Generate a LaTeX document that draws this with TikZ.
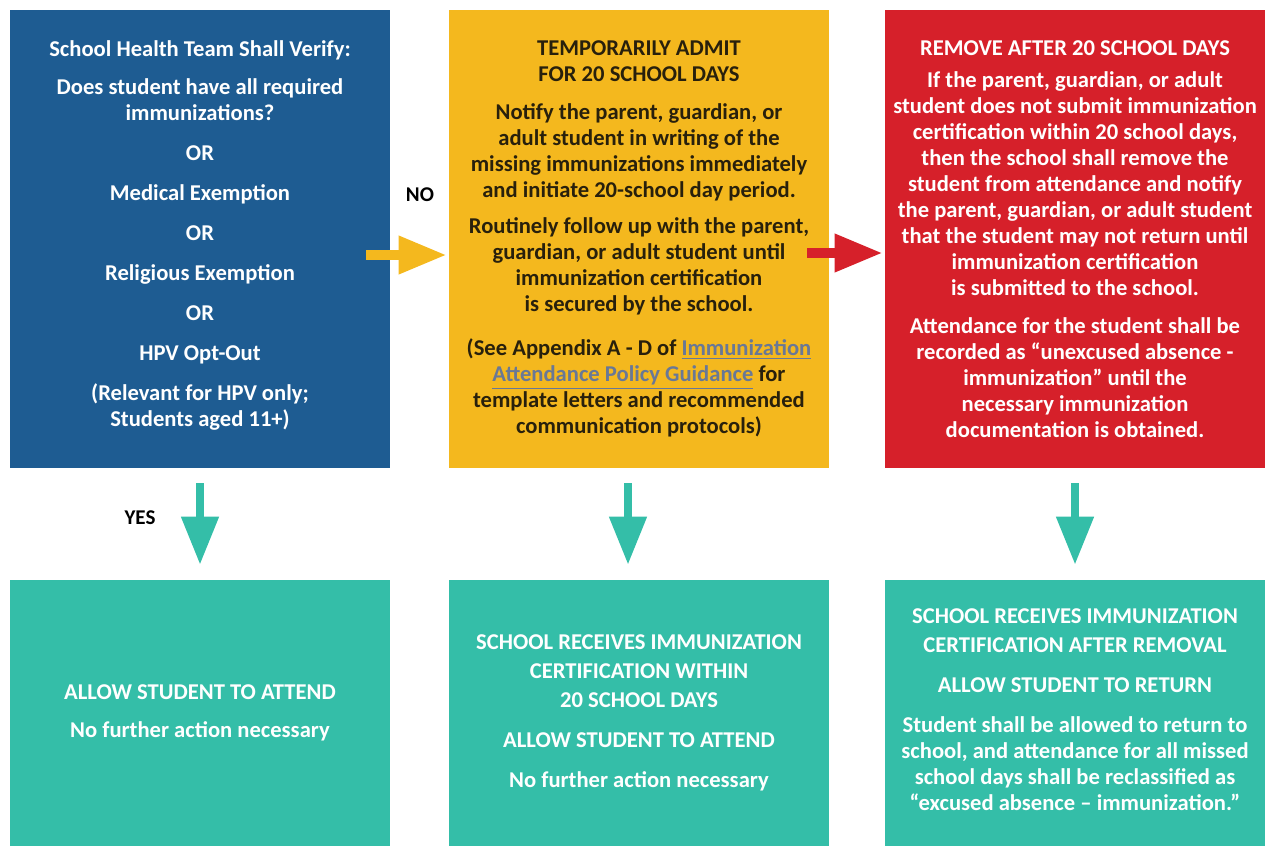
\documentclass[tikz,border=0pt]{standalone}
\usepackage{fontspec}
\setmainfont{Carlito}
\usetikzlibrary{arrows.meta}
\definecolor{verifyblue}{RGB}{30,92,146}
\definecolor{admityellow}{RGB}{244,184,30}
\definecolor{removered}{RGB}{214,32,42}
\definecolor{attendteal}{RGB}{52,190,168}
\definecolor{linkgray}{RGB}{105,120,150}
\definecolor{darktext}{RGB}{40,32,12}
\newcommand\lnk[1]{\textcolor{linkgray}{\underline{#1}}}

\begin{document}
\begin{tikzpicture}[x=0.5pt,y=-0.5pt]
  \tikzset{card/.style     = {rectangle, inner sep=0pt, align=center,
                              minimum width=190pt, minimum height=229pt,
                              text=white,
                              font=\bfseries\fontsize{11.3}{13}\selectfont},
           lowcard/.style  = {card, minimum height=133pt, fill=attendteal},
           bigarrow/.style = {line width=5pt,
                              -{Triangle[length=24pt,width=18pt]}},
           downarrow/.style= {bigarrow, line width=4pt, attendteal},
           answer/.style   = {font=\bfseries\fontsize{10.5}{11}\selectfont}}

  \useasboundingbox (0,0) rectangle (1267,846);

% top row
\node[card, fill=verifyblue] (verify) at (200,239)
  {School Health Team Shall Verify:\\[6pt]
   Does student have all required\\ immunizations?\\[7pt]
   OR\\[7pt] Medical Exemption\\[7pt] OR\\[7pt] Religious Exemption\\[7pt]
   OR\\[7pt] HPV Opt-Out\\[7pt]
   (Relevant for HPV only;\\ Students aged 11+)\\[-8pt]\mbox{}};
\node[card, fill=admityellow, text=darktext] (admit) at (639,239)
  {TEMPORARILY ADMIT\\ FOR 20 SCHOOL DAYS\\[6pt]
   Notify the parent, guardian, or\\ adult student in writing of the\\
   missing immunizations immediately\\ and initiate 20-school day period.\\[5pt]
   Routinely follow up with the parent,\\ guardian, or adult student until\\
   immunization certification\\ is secured by the school.\\[9pt]
   (See Appendix A - D of \lnk{Immunization}\\
   \lnk{Attendance Policy Guidance} for\\
   template letters and recommended\\ communication protocols)};
\node[card, fill=removered] (remove) at (1075,239)
  {REMOVE AFTER 20 SCHOOL DAYS\\[3pt]
   If the parent, guardian, or adult\\ student does not submit immunization\\
   certification within 20 school days,\\ then the school shall remove the\\
   student from attendance and notify\\ the parent, guardian, or adult student\\
   that the student may not return until\\ immunization certification\\
   is submitted to the school.\\[6pt]
   Attendance for the student shall be\\
   recorded as “unexcused absence -\\ immunization” until the\\
   necessary immunization\\ documentation is obtained.};

% bottom row
\node[lowcard] (allow) at (200,713)
  {ALLOW STUDENT TO ATTEND\\[6pt] No further action necessary};
\node[lowcard] (received) at (639,713)
  {SCHOOL RECEIVES IMMUNIZATION\\[1.5pt] CERTIFICATION WITHIN\\[1.5pt] 20 SCHOOL DAYS\\[7pt]
   ALLOW STUDENT TO ATTEND\\[7pt] No further action necessary};
\node[lowcard] (returned) at (1075,713)
  {SCHOOL RECEIVES IMMUNIZATION\\[1.5pt] CERTIFICATION AFTER REMOVAL\\[7pt]
   ALLOW STUDENT TO RETURN\\[7pt]
   Student shall be allowed to return to\\ school, and attendance for all missed\\
   school days shall be reclassified as\\ “excused absence – immunization.”\\[-10pt]\mbox{}};

% answers
\node[answer] (no) at (420,195) {NO};
\node[answer] (yes) at (140,518) {YES};

% arrows
\draw[bigarrow, admityellow] ([xshift=-12pt,yshift=-8pt]verify.east)
  -- ([xshift=-1pt,yshift=-8pt]admit.west);
\draw[bigarrow, removered] ([xshift=-11pt,yshift=-7pt]admit.east)
  -- ([xshift=-1pt,yshift=-7pt]remove.west);
\draw[downarrow] ([yshift=-7.5pt]verify.south) -- ([yshift=7.5pt]allow.north);
\draw[downarrow] ([xshift=-5.5pt,yshift=-7.5pt]admit.south)
  -- ([xshift=-5.5pt,yshift=7.5pt]received.north);
\draw[downarrow] ([yshift=-7.5pt]remove.south) -- ([yshift=7.5pt]returned.north);

\end{tikzpicture}
\end{document}
